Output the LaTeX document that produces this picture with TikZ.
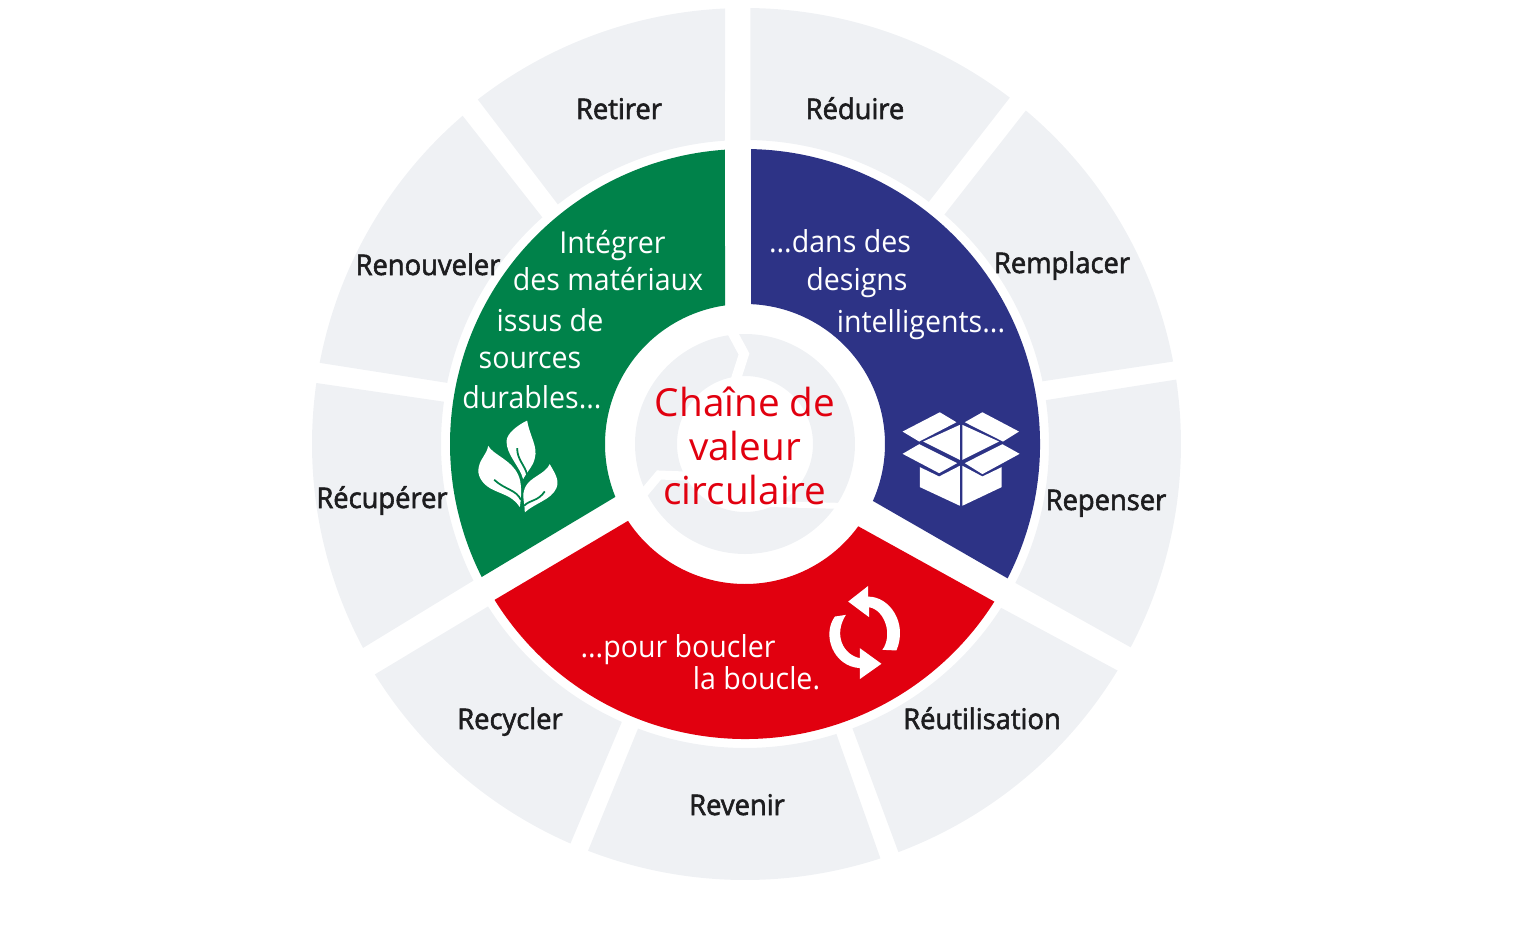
\documentclass[tikz,border=0pt]{standalone}
\usepackage{fontspec}
\setmainfont{Open Sans}
\newfontfamily\whitefont[FakeStretch=0.945]{Open Sans}
\newfontfamily\blackfont[FakeStretch=0.96, FakeBold=2]{Open Sans}
\definecolor{ringgrey}{RGB}{239, 241, 244}
\definecolor{loopgreen}{RGB}{0, 130, 74}
\definecolor{loopblue}{RGB}{45, 51, 134}
\definecolor{loopred}{RGB}{225, 0, 15}
\definecolor{labelblack}{RGB}{29, 29, 31}
\tikzset{
    outerlabel/.style={anchor=base, text=labelblack, font=\fontsize{8.1}{8.1}\blackfont},
    innerlabel/.style={anchor=base, text=white, font=\fontsize{8.6}{8.6}\whitefont},
    centrelabel/.style={anchor=base, text=loopred, font=\fontsize{11}{11}\selectfont},
    iconpart/.style={fill=white},
    iconscope/.style={x=0.0033333cm, y=-0.0033333cm}
}
\newcommand{\ringpiece}[7]{\fill [fill=#1] (#4:#2) arc[start angle=#4, end angle=#5, radius=#2] -- (#7:#3) arc[start angle=#7, end angle=#6, radius=#3] -- cycle;}
\begin{document}
\begin{tikzpicture}
    \useasboundingbox (-7.45,-4.91) rectangle (7.91,4.44);
    \ringpiece{ringgrey}{4.36}{3.04}{92.6}{127.8}{93.8}{128}
    \ringpiece{ringgrey}{4.33}{3.04}{130.7}{169.2}{131.8}{168.4}
    \ringpiece{ringgrey}{4.33}{3.04}{171.9}{208.1}{172}{206.7}
    \ringpiece{ringgrey}{4.36}{3.04}{211.9}{246.4}{212.3}{246.1}
    \ringpiece{ringgrey}{4.36}{3.04}{248.9}{288.1}{249.4}{287.5}
    \ringpiece{ringgrey}{4.36}{3.04}{290.6}{328.7}{290.7}{327.4}
    \ringpiece{ringgrey}{4.36}{3.04}{332.2}{368.5}{332.8}{368.3}
    \ringpiece{ringgrey}{4.36}{3.04}{10.9}{49.9}{11.9}{49}
    \ringpiece{ringgrey}{4.36}{3.04}{52.6}{89.3}{52.8}{89}
    \ringpiece{loopgreen}{2.95}{1.40}{93.9}{206.8}{98.2}{202.2}
    \ringpiece{loopblue}{2.95}{1.40}{-27.1}{88.8}{-24}{87.5}
    \ringpiece{loopred}{2.95}{1.40}{211.9}{327.7}{213.3}{324}
    \fill [fill=ringgrey, even odd rule] (0,0) circle (1.10) (0,0) circle (0.68);
    \draw [white, line width=0.1cm] (-0.15,1.16) -- (-0.01,0.90) -- (-0.10,0.62);
    \draw [white, line width=0.09cm] (-1.12,-0.62) -- (-0.86,-0.31) -- (-0.60,-0.32);
    \draw [white, line width=0.06cm] (0.24,-0.60) -- (1.00,-0.62);
    \begin{scope}[shift={(-3.05,0.64)}, iconscope]
        \fill [iconpart] (262,122) .. controls (270,170) and (295,200) .. (285,235) .. controls (280,260) and (265,270) .. (250,298) .. controls (240,260) and (200,225) .. (200,185) .. controls (200,160) and (235,135) .. (262,122) -- cycle;
        \fill [iconpart] (145,198) .. controls (160,225) and (215,240) .. (235,285) .. controls (247,310) and (245,350) .. (240,382) .. controls (215,345) and (185,345) .. (150,325) .. controls (125,310) and (110,285) .. (117,260) .. controls (122,235) and (140,225) .. (145,198) -- cycle;
        \fill [iconpart] (330,253) .. controls (345,280) and (360,300) .. (350,325) .. controls (335,360) and (285,370) .. (255,398) .. controls (255,370) and (245,345) .. (255,325) .. controls (270,290) and (315,285) .. (330,253) -- cycle;
        \draw [loopgreen, line width=0.5pt] (232,205) .. controls (232,240) and (255,255) .. (262,285);
        \draw [loopgreen, line width=0.5pt] (163,300) .. controls (195,330) and (230,330) .. (243,360);
        \draw [loopgreen, line width=0.5pt] (253,378) .. controls (270,360) and (295,365) .. (315,335);
    \end{scope}
    \begin{scope}[shift={(1.15,0.64)}, iconscope]
        \fill [iconpart] (240,97) -- (290,127) -- (178,185) -- (128,155) -- cycle;
        \fill [iconpart] (368,97) -- (478,155) -- (430,185) -- (315,127) -- cycle;
        \fill [iconpart] (300,135) -- (300,240) -- (190,185) -- cycle;
        \fill [iconpart] (308,135) -- (418,185) -- (308,240) -- cycle;
        \fill [iconpart] (178,193) -- (292,250) -- (238,280) -- (128,222) -- cycle;
        \fill [iconpart] (428,193) -- (480,222) -- (368,283) -- (315,250) -- cycle;
        \fill [iconpart] (180,262) -- (238,290) -- (300,258) -- (300,378) -- (180,322) -- cycle;
        \fill [iconpart] (308,258) -- (368,290) -- (426,262) -- (426,322) -- (308,378) -- cycle;
    \end{scope}
    \begin{scope}[shift={(0.35,-1.16)}, iconscope]
        \fill [iconpart] (205,125) -- (265,78) -- (265,110) .. controls (330,110) and (385,190) .. (350,272) -- (308,270) .. controls (340,225) and (315,150) .. (268,142) -- (268,172) -- cycle;
        \fill [iconpart] (305,312) -- (240,265) -- (240,295) .. controls (190,285) and (160,225) .. (198,165) -- (165,170) .. controls (125,225) and (160,320) .. (240,325) -- (240,358) -- cycle;
    \end{scope}
    \node [outerlabel] (retirer) at (-1.26,3.25) {Retirer};
    \node [outerlabel] (reduire) at (1.10,3.25) {Réduire};
    \node [outerlabel] (remplacer) at (3.17,1.71) {Remplacer};
    \node [outerlabel] (renouveler) at (-3.17,1.69) {Renouveler};
    \node [outerlabel] (recuperer) at (-3.63,-0.64) {Récupérer};
    \node [outerlabel] (repenser) at (3.61,-0.66) {Repenser};
    \node [outerlabel] (reutilisation) at (2.37,-2.85) {Réutilisation};
    \node [outerlabel] (recycler) at (-2.35,-2.85) {Recycler};
    \node [outerlabel] (revenir) at (-0.08,-3.71) {Revenir};
    \node [innerlabel] (integrer) at (-1.325,1.91) {Intégrer};
    \node [innerlabel] (materiaux) at (-1.37,1.54) {des matériaux};
    \node [innerlabel] (issus) at (-1.95,1.13) {issus de};
    \node [innerlabel] (sources) at (-2.15,0.76) {sources};
    \node [innerlabel] (durables) at (-2.13,0.36) {durables...};
    \node [innerlabel] (dans) at (0.95,1.92) {...dans des};
    \node [innerlabel] (designs) at (1.12,1.54) {designs};
    \node [innerlabel] (intelligents) at (1.76,1.12) {intelligents...};
    \node [innerlabel] (pour) at (-0.67,-2.13) {...pour boucler};
    \node [innerlabel] (boucle) at (0.115,-2.45) {la boucle.};
    \node [centrelabel] (chaine) at (0,0.28) {Chaîne de};
    \node [centrelabel] (valeur) at (0,-0.16) {valeur};
    \node [centrelabel] (circulaire) at (0,-0.60) {circulaire};
\end{tikzpicture}
\end{document}
